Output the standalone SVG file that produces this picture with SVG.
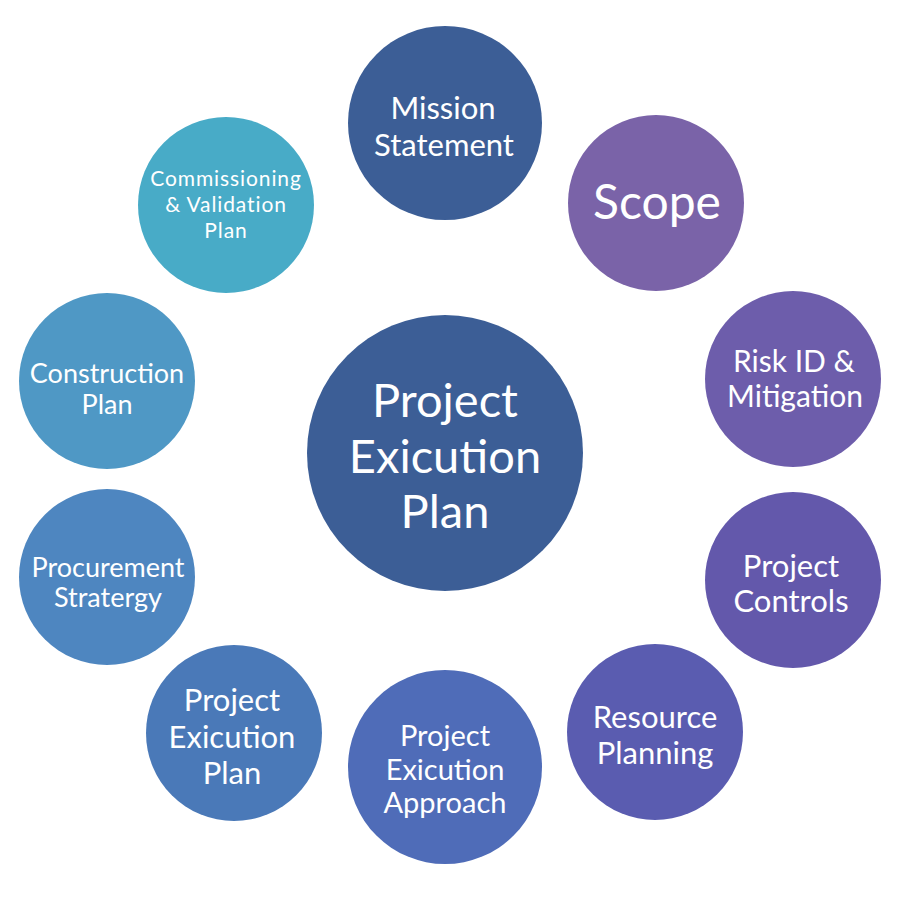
<svg xmlns="http://www.w3.org/2000/svg" width="900" height="900" viewBox="0 0 900 900">
<style>
text{font-family:Lato,"Open Sans","Noto Sans",sans-serif;fill:#ffffff;text-anchor:middle}
</style>
<rect width="900" height="900" fill="#ffffff"/>
<g id="connectors"></g>
<g id="center"><circle cx="445" cy="453" r="138" fill="#3c5e96"/>
<text font-size="47"><tspan x="445" y="417">Project</tspan><tspan x="445" y="473">Exicution</tspan><tspan x="445" y="528">Plan</tspan></text></g>
<g id="mission"><circle cx="445" cy="123" r="97" fill="#3c5e96"/>
<text font-size="31"><tspan x="443" y="119">Mission</tspan><tspan x="444" y="156">Statement</tspan></text></g>
<g id="scope"><circle cx="656" cy="203" r="88" fill="#7a63a8"/>
<text font-size="48" x="657" y="219">Scope</text></g>
<g id="risk"><circle cx="793" cy="379" r="88" fill="#6d5dab"/>
<text font-size="30"><tspan x="794" y="372">Risk ID &amp;</tspan><tspan x="795" y="407">Mitigation</tspan></text></g>
<g id="controls"><circle cx="793" cy="580" r="88" fill="#6358ab"/>
<text font-size="31"><tspan x="791" y="577">Project</tspan><tspan x="791" y="612">Controls</tspan></text></g>
<g id="resource"><circle cx="655" cy="732" r="88" fill="#5a5cb0"/>
<text font-size="31"><tspan x="655" y="728">Resource</tspan><tspan x="655" y="764">Planning</tspan></text></g>
<g id="approach"><circle cx="445" cy="767" r="97" fill="#4f6cb8"/>
<text font-size="29"><tspan x="445" y="746">Project</tspan><tspan x="445" y="780">Exicution</tspan><tspan x="445" y="813">Approach</tspan></text></g>
<g id="pep"><circle cx="234" cy="733" r="88" fill="#4a79b8"/>
<text font-size="31"><tspan x="232" y="711">Project</tspan><tspan x="232" y="748">Exicution</tspan><tspan x="232" y="784">Plan</tspan></text></g>
<g id="procurement"><circle cx="107" cy="577" r="88" fill="#4e86c0"/>
<text font-size="27"><tspan x="108" y="577">Procurement</tspan><tspan x="108" y="607">Stratergy</tspan></text></g>
<g id="construction"><circle cx="107" cy="381" r="88" fill="#4f98c5"/>
<text font-size="27"><tspan x="107" y="383">Construction</tspan><tspan x="107" y="414">Plan</tspan></text></g>
<g id="commissioning"><circle cx="226" cy="205" r="88" fill="#48abc7"/>
<text font-size="21" letter-spacing="0.9"><tspan x="226" y="186">Commissioning</tspan><tspan x="226" y="212">&amp; Validation</tspan><tspan x="226" y="238">Plan</tspan></text></g>
</svg>
